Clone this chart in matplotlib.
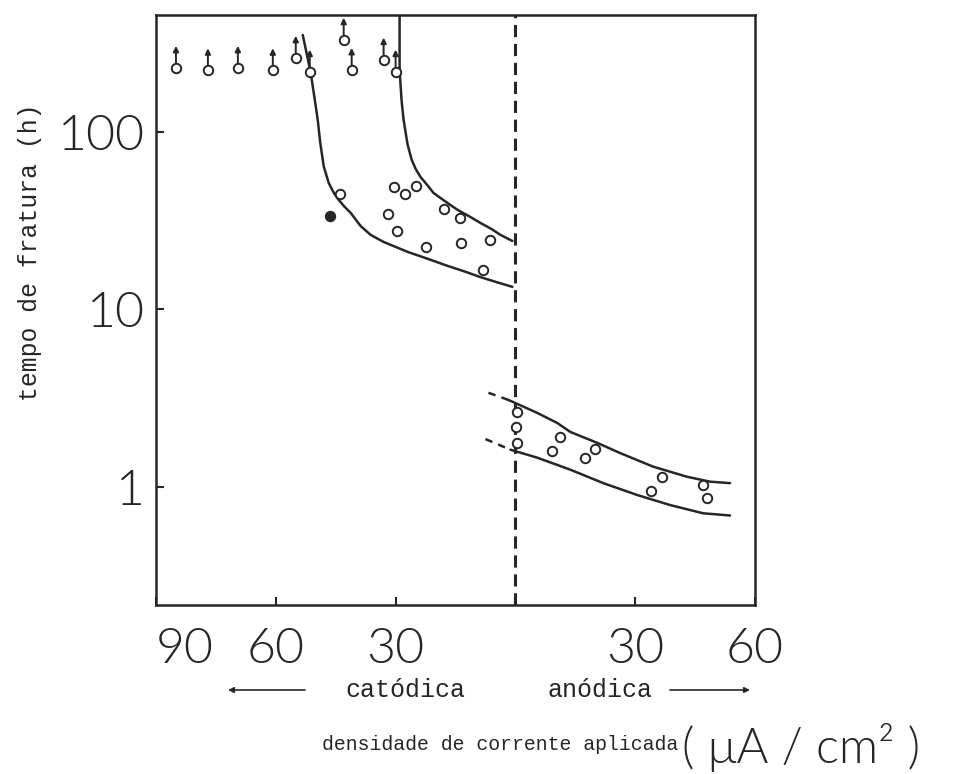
import matplotlib
matplotlib.use("Agg")
from matplotlib import pyplot as plt

# runout specimens (no fracture), drawn as circles with an up arrow
runout_x = [-85, -77, -69.5, -60.75, -55, -51.5, -43, -41, -33, -30]
runout_y = [229, 222, 229, 222, 261, 218, 330, 223, 255, 218]

# cathodic side fracture times
cath_x = [-46.5, -44, -32, -30.5, -29.75, -27.75, -25, -22.5, -18, -13.75, -13.5, -8, -6.25]
cath_y = [33.6, 44.8, 34.5, 49, 27.7, 44.8, 49.6, 22.5, 36.8, 32.7, 23.7, 16.7, 24.6]
cath_filled = [True] + [False] * 12

# anodic side fracture times
an_x = [0.5, 0.25, 0.5, 9.25, 11.25, 17.5, 20, 34, 36.75, 47, 48]
an_y = [2.65, 2.18, 1.77, 1.60, 1.91, 1.46, 1.64, 0.95, 1.14, 1.03, 0.87]

# hand drawn band limits
cath_low_x = [-53.25, -51.25, -50.2, -49.5, -48.9, -48, -46.75, -45.5, -44.25, -42.75,
              -41.25, -38.75, -36.25, -33, -30, -27, -22, -17, -12.5, -8.75, -4.5, -0.75]
cath_low_y = [352, 215, 150, 117, 88, 64, 51.6, 45.5, 41.4, 37.8,
              35, 29.5, 26.3, 24.0, 22.5, 21.1, 19.3, 17.6, 16.3, 15.2, 14.2, 13.4]
cath_up_x = [-29, -29, -28.5, -28, -27, -26, -25, -23.75, -22, -20.5, -17.5, -14.5,
             -11.5, -8.75, -6, -3.75, -0.75]
cath_up_y = [470, 223, 150, 117, 85, 70, 62, 55.7, 50, 45.3, 40.5, 36.4,
             33.4, 30.7, 28.4, 26.3, 24.3]

an_up_x = [-1.75, 5.5, 10.5, 13.75, 20.5, 26.25, 34.5, 43, 48.75, 53.75]
an_up_y = [3.09, 2.61, 2.29, 2.04, 1.77, 1.55, 1.30, 1.14, 1.07, 1.05]
an_up_dash_x = [-6.75, -1.75]
an_up_dash_y = [3.39, 3.09]
an_low_x = [-1.25, 5.5, 13.75, 22, 30.5, 38.75, 47, 53.75]
an_low_y = [1.62, 1.46, 1.25, 1.05, 0.90, 0.79, 0.71, 0.69]
an_low_dash_x = [-7.5, -1.25]
an_low_dash_y = [1.86, 1.62]

xticks = [-90, -60, -30, 0, 30, 60]
xticklabels = ["90", "60", "30", "", "30", "60"]
yticks = [1, 10, 100]
yticklabels = ["1", "10", "100"]

INK = "#262626"
BIG = ["Lato", "DejaVu Sans"]
TYPE = ["Liberation Mono", "DejaVu Sans Mono"]

W, H = 965, 774
fig = plt.figure(figsize=(W / 100, H / 100), dpi=100)
ax = fig.add_axes([156 / W, (H - 605) / H, (755 - 156) / W, (605 - 15) / H])
ax.set_yscale("log")
ax.set_xlim(-90, 60)
ax.set_ylim(0.216, 456)

for s in ax.spines.values():
    s.set_linewidth(1.8)
    s.set_color(INK)

# curves
for cx, cy in [(cath_low_x, cath_low_y), (cath_up_x, cath_up_y),
               (an_up_x, an_up_y), (an_low_x, an_low_y)]:
    ax.plot(cx, cy, color=INK, lw=1.8, solid_capstyle="round", solid_joinstyle="round")
for cx, cy in [(an_up_dash_x, an_up_dash_y), (an_low_dash_x, an_low_dash_y)]:
    ax.plot(cx, cy, color=INK, lw=1.8, dashes=(3, 2.5))

# boundary cathodic / anodic
ax.axvline(0, color=INK, lw=2.2, dashes=(4, 2.2))

# points
ms = 6.8
for x, y, f in zip(cath_x, cath_y, cath_filled):
    ax.plot(x, y, "o", ms=ms, mec=INK, mew=1.4, mfc=INK if f else "white", zorder=3)
ax.plot(an_x, an_y, "o", ms=ms, mec=INK, mew=1.4, mfc="white", zorder=3)
ax.plot(runout_x, runout_y, "o", ms=ms, mec=INK, mew=1.4, mfc="white", zorder=3)
for x, y in zip(runout_x, runout_y):
    ax.annotate("", xy=(x, y), xytext=(0, 16), textcoords="offset points",
                arrowprops=dict(arrowstyle="<|-", lw=1.4, color=INK,
                                shrinkA=0, shrinkB=3.8, mutation_scale=8))

# ticks
ax.set_xticks(xticks)
ax.set_xticklabels(xticklabels, family=BIG, fontweight=300, fontsize=36, color=INK)
ax.set_yticks(yticks)
ax.set_yticklabels(yticklabels, family=BIG, fontweight=300, fontsize=36, color=INK)
ax.minorticks_off()
ax.tick_params(axis="both", direction="in", length=6, width=1.5, color=INK)
ax.tick_params(axis="x", pad=16)
ax.tick_params(axis="y", pad=8)
ax.get_xticklabels()[0].set_ha("left")

# labels
fig.text(30 / W, 1 - 252 / H, "tempo de fratura (h)", rotation=90, ha="center", va="center",
         family=TYPE, fontsize=17.8, color=INK)
fig.text(405 / W, 1 - 690 / H, "catódica", ha="center", va="center",
         family=TYPE, fontsize=18, color=INK)
fig.text(600 / W, 1 - 690 / H, "anódica", ha="center", va="center",
         family=TYPE, fontsize=18, color=INK)
ax.annotate("", xy=(228 / W, 1 - 690 / H), xytext=(305 / W, 1 - 690 / H),
            xycoords="figure fraction", textcoords="figure fraction",
            arrowprops=dict(arrowstyle="-|>", lw=1.2, color=INK, mutation_scale=8,
                            shrinkA=0, shrinkB=0))
ax.annotate("", xy=(750 / W, 1 - 690 / H), xytext=(670 / W, 1 - 690 / H),
            xycoords="figure fraction", textcoords="figure fraction",
            arrowprops=dict(arrowstyle="-|>", lw=1.2, color=INK, mutation_scale=8,
                            shrinkA=0, shrinkB=0))
fig.text(322 / W, 1 - 745 / H, "densidade de corrente aplicada", ha="left", va="center",
         family=TYPE, fontsize=14.3, color=INK)
fig.text(682 / W, 1 - 748 / H, "( \u03bcA / cm\u00b2 )", ha="left", va="center",
         family=BIG, fontweight=300, fontsize=35, color=INK)

fig.savefig("out.png", dpi=100)
